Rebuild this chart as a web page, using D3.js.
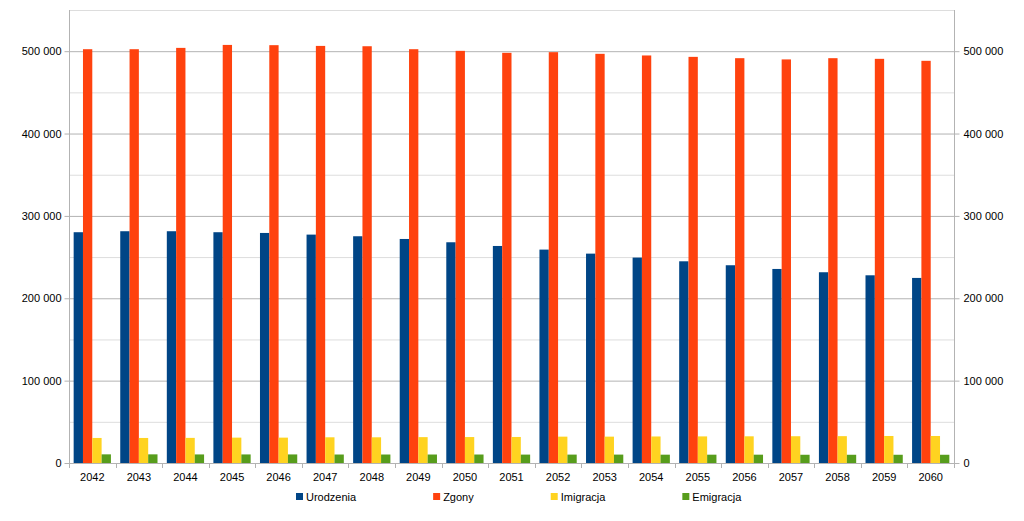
<!DOCTYPE html>
<html><head><meta charset="utf-8">
<script src="https://cdn.jsdelivr.net/npm/d3@7"></script>
<style>body{margin:0;background:#fff}svg{display:block}text{font-family:"Liberation Sans",Arial,sans-serif;fill:#000}</style>
</head><body><svg id="c" width="1024" height="521"></svg>
<script>
const years = ["2042","2043","2044","2045","2046","2047","2048","2049","2050","2051","2052","2053","2054","2055","2056","2057","2058","2059","2060"];
const seriesNames = ["Urodzenia","Zgony","Imigracja","Emigracja"];
const urodzenia = [280200,281400,281400,280200,279300,277300,275300,272000,268000,263500,259100,254200,249400,244900,240100,235600,231600,227900,224700];
const zgony = [502400,502400,504000,507600,507300,506400,506000,502400,500400,498000,498800,496800,494800,493100,491500,490000,491500,490700,488300];
const imigracja = [30400,30400,30500,30800,30800,31200,31200,31400,31500,31600,32000,32000,32200,32300,32400,32500,32600,32800,32800];
const emigracja = [10500,10500,10400,10400,10400,10300,10300,10300,10300,10200,10200,10200,10100,10100,10100,10000,10000,10000,10000];
const yTicks = [0,100000,200000,300000,400000,500000];
const yGrid = [50000,100000,150000,200000,250000,300000,350000,400000,450000,500000,550000];
const colors = ["#004586","#ff420e","#ffd320","#579d1c"];
const values = [urodzenia, zgony, imigracja, emigracja];

const svg = d3.select("#c");
const L = 69, R = 954, T = 10, B = 463;
const x0 = d3.scaleBand().domain(years).range([L, R]).padding(0);
const bw = x0.bandwidth();
const x1 = d3.scaleBand().domain(seriesNames).range([bw*0.1, bw*0.9]).padding(0);
const y = d3.scaleLinear().domain([0, 550000]).range([B, T]);
const fmt = v => d3.format(",")(v).replace(/,/g, " ");

// gridlines
svg.append("g").selectAll("line").data(yGrid).join("line")
  .attr("x1", L).attr("x2", R).attr("y1", d => y(d)+0.5).attr("y2", d => y(d)+0.5)
  .attr("stroke", d => d % 100000 === 0 ? "#b3b3b3" : "#dddddd").attr("stroke-width", 1);

// bars
const g = svg.append("g");
years.forEach((yr, i) => {
  seriesNames.forEach((s, j) => {
    g.append("rect")
      .attr("x", x0(yr) + x1(s)).attr("width", x1.bandwidth())
      .attr("y", y(values[j][i])).attr("height", B - y(values[j][i]))
      .attr("fill", colors[j]);
  });
});

// axes
const left = d3.axisLeft(y).tickValues(yTicks).tickFormat(fmt).tickSize(5).tickPadding(3);
const right = d3.axisRight(y).tickValues(yTicks).tickFormat(fmt).tickSize(5).tickPadding(4);
const bottom = d3.axisBottom(x0).tickSize(0).tickPadding(10);
function style(sel){
  sel.select(".domain").attr("stroke", "#b3b3b3");
  sel.selectAll(".tick line").attr("stroke", "#b3b3b3");
  sel.selectAll("text").attr("font-size", "11px").attr("font-family", '"Liberation Sans",Arial,sans-serif').attr("fill", "#000");
}
svg.append("g").attr("transform", `translate(${L+0.5},0)`).call(left).call(style).select(".domain").attr("d", `M0,${T}V${B+0.5}`);
svg.append("g").attr("transform", `translate(${R+0.5},0)`).call(right).call(style).select(".domain").attr("d", `M0,${T}V${B+0.5}`);
const bx = svg.append("g").attr("transform", `translate(0,${B+0.5})`).call(bottom).call(style);
bx.select(".domain").attr("d", `M${L},0H${R}`);
// category boundary ticks
svg.append("g").selectAll("line").data(years.concat(["end"])).join("line")
  .attr("x1", (d,i) => Math.round(L + i*bw)+0.5).attr("x2", (d,i) => Math.round(L + i*bw)+0.5)
  .attr("y1", B).attr("y2", B+5).attr("stroke", "#b3b3b3");

// legend
const lg = svg.append("g");
let lx = 296;
seriesNames.forEach((s, j) => {
  lg.append("rect").attr("x", lx).attr("y", 493).attr("width", 7).attr("height", 7).attr("fill", colors[j]);
  const t = lg.append("text").attr("x", lx + 10).attr("y", 501).attr("font-size", "11px").text(s);
  const w = t.node().getComputedTextLength();
  lx += 10 + w + 77;
});
</script></body></html>
